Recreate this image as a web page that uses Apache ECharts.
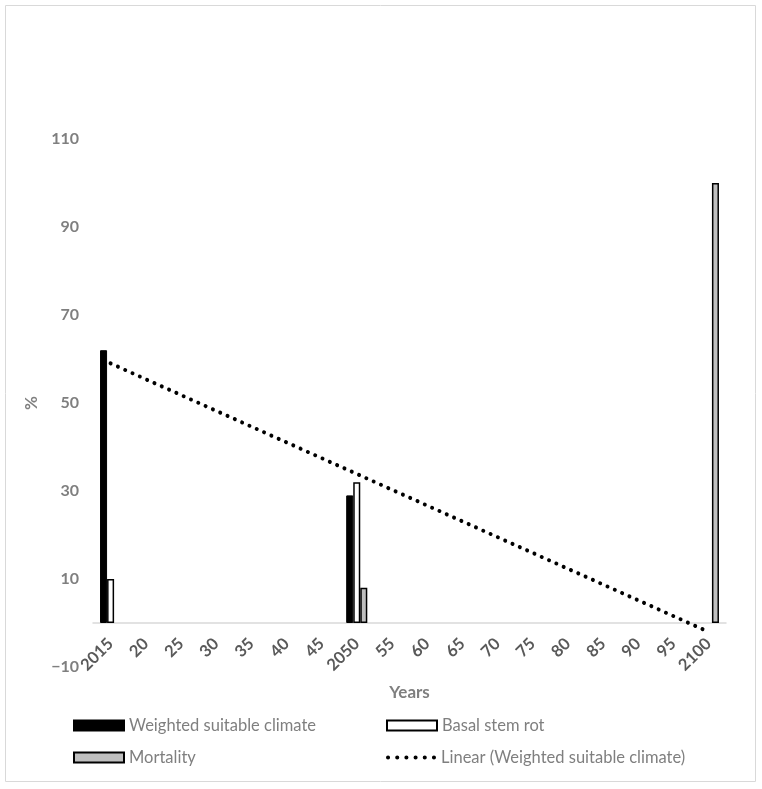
<!DOCTYPE html>
<html>
<head>
<meta charset="utf-8">
<script src="https://cdn.jsdelivr.net/npm/echarts@6/dist/echarts.min.js"></script>
<style>
  html, body { margin: 0; padding: 0; background: #fff; }
  #chart { width: 762px; height: 789px; }
</style>
</head>
<body>
<div id="chart"></div>
<script>
const years = ['2015', '20', '25', '30', '35', '40', '45', '2050', '55', '60', '65', '70', '75', '80', '85', '90', '95', '2100']
const weightedClimate = [62, null, null, null, null, null, null, 29, null, null, null, null, null, null, null, null, null, null]
const basalStemRot = [10, null, null, null, null, null, null, 32, null, null, null, null, null, null, null, null, null, null]
const mortality = [null, null, null, null, null, null, null, 8, null, null, null, null, null, null, null, null, null, 100]
// trendline end points
const trendLine = [['2015', 59], ['2100', -2]]

const font = 'Lato, "Liberation Sans", sans-serif'
const legendText = { color: '#7f7f7f', fontSize: 16.5, fontFamily: font }
// six round dots for the trendline legend key
let dots = ''
for (let i = 0; i < 6; i++) {
  dots += 'M' + (i * 9) + ',2a2,2 0 1,0 4,0a2,2 0 1,0 -4,0z'
}

const chart = echarts.init(document.getElementById('chart'))

chart.setOption({
  animation: false,
  textStyle: { fontFamily: font },
  graphic: [{
    type: 'rect',
    shape: { x: 5.5, y: 5.5, width: 750, height: 776 },
    style: { fill: 'none', stroke: '#d9d9d9', lineWidth: 1 },
    silent: true
  }],
  grid: { left: 93, right: 36, top: 139, bottom: 122 },
  legend: [
    {
      left: 68, top: 712, orient: 'vertical', itemGap: 15,
      itemWidth: 50, itemHeight: 10, icon: 'rect',
      textStyle: legendText,
      data: ['Weighted suitable climate', 'Mortality']
    },
    {
      left: 381, top: 712,
      itemWidth: 50, itemHeight: 10, icon: 'rect',
      textStyle: legendText,
      data: ['Basal stem rot']
    },
    {
      left: 381, top: 744,
      itemWidth: 50, itemHeight: 10,
      symbolKeepAspect: true,
      textStyle: legendText,
      data: [{ name: 'Linear (Weighted suitable climate)', icon: 'path://' + dots }]
    }
  ],
  xAxis: {
    type: 'category',
    data: years,
    name: 'Years',
    nameLocation: 'middle',
    nameGap: 61,
    offset: -44,
    nameTextStyle: { color: '#7f7f7f', fontSize: 17, fontWeight: 'bold', fontFamily: font },
    axisLine: { onZero: false, lineStyle: { color: '#d9d9d9', width: 1.5 } },
    axisTick: { show: false },
    axisLabel: { rotate: 45, color: '#595959', fontSize: 16.5, fontWeight: 'bold', margin: 18, fontFamily: font }
  },
  yAxis: {
    type: 'value',
    min: -10,
    max: 110,
    interval: 20,
    name: '%',
    nameLocation: 'middle',
    nameGap: 52,
    nameTextStyle: { color: '#7f7f7f', fontSize: 17, fontWeight: 'bold', fontFamily: font },
    axisLine: { show: false },
    axisTick: { show: false },
    splitLine: { show: false },
    axisLabel: {
      color: '#7f7f7f', fontSize: 16, fontWeight: 'bold', margin: 14, fontFamily: font,
      formatter: v => String(v).replace('-', '\u2212')
    }
  },
  series: [
    {
      name: 'Weighted suitable climate',
      type: 'bar',
      data: weightedClimate,
      barGap: '0%',
      barCategoryGap: '40%',
      itemStyle: { color: '#000', borderColor: '#000', borderWidth: 1 }
    },
    {
      name: 'Basal stem rot',
      type: 'bar',
      data: basalStemRot,
      itemStyle: { color: '#fff', borderColor: '#000', borderWidth: 1.5 }
    },
    {
      name: 'Mortality',
      type: 'bar',
      data: mortality,
      itemStyle: { color: '#bfbfbf', borderColor: '#000', borderWidth: 1.5 }
    },
    {
      name: 'Linear (Weighted suitable climate)',
      type: 'line',
      data: trendLine,
      symbol: 'none',
      color: '#000',
      z: 5,
      lineStyle: { color: '#000', width: 4, type: [0.01, 8], cap: 'round' }
    }
  ]
})
</script>
</body>
</html>
